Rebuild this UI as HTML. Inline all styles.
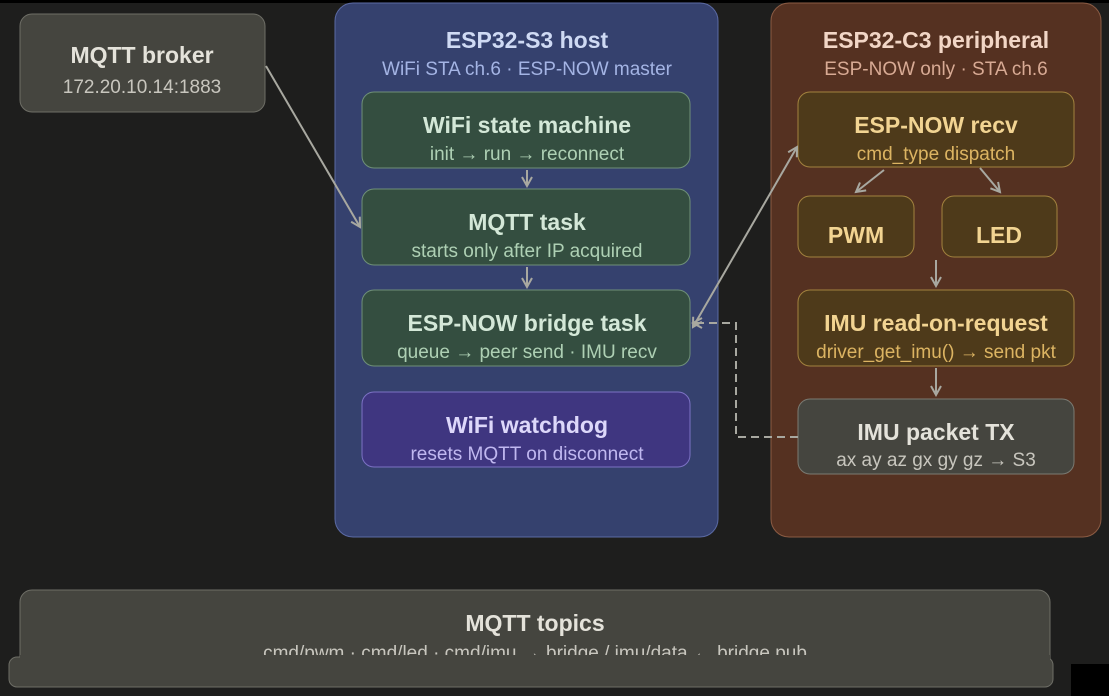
<!DOCTYPE html>
<html><head><meta charset="utf-8"><style>
html,body{margin:0;padding:0;background:#1e1e1d;}
svg{display:block;font-family:"Liberation Sans",sans-serif;}
.t{font-size:23px;font-weight:bold;text-anchor:middle;}
.s{font-size:19px;text-anchor:middle;}
</style></head><body>
<svg width="1109" height="696" viewBox="0 0 1109 696" xmlns="http://www.w3.org/2000/svg">
<defs>
<marker id="a" markerWidth="12" markerHeight="12" refX="10" refY="6" orient="auto" markerUnits="userSpaceOnUse">
<path d="M1,1 L10,6 L1,11" fill="none" stroke="#a8a8a0" stroke-width="2"/></marker>
<marker id="b" markerWidth="12" markerHeight="12" refX="10" refY="6" orient="auto-start-reverse" markerUnits="userSpaceOnUse">
<path d="M1,1 L10,6 L1,11" fill="none" stroke="#a8a8a0" stroke-width="2"/></marker>
</defs>
<rect width="1109" height="696" fill="#1e1e1d"/>
<rect width="1109" height="3" fill="#000"/>

<rect x="20" y="14" width="245" height="98" rx="12" fill="#45453f" stroke="#6e6e66"/>
<text x="142" y="63" class="t" fill="#e4e2da">MQTT broker</text>
<text x="142" y="93" class="s" fill="#c8c6be">172.20.10.14:1883</text>

<rect x="335" y="3" width="383" height="534" rx="18" fill="#35416e" stroke="#5b6aa4"/>
<text x="527" y="48" class="t" fill="#cfdaf4">ESP32-S3 host</text>
<text x="527" y="75" class="s" fill="#a4b4e4">WiFi STA ch.6 · ESP-NOW master</text>

<g stroke="#6f9078" fill="#344e40">
<rect x="362" y="92" width="328" height="76" rx="12"/>
<rect x="362" y="189" width="328" height="76" rx="12"/>
<rect x="362" y="290" width="328" height="76" rx="12"/>
</g>
<text x="527" y="133" class="t" fill="#d4e8d8">WiFi state machine</text>
<text x="527" y="160" class="s" fill="#aed0b4">init → run → reconnect</text>
<text x="527" y="230" class="t" fill="#d4e8d8">MQTT task</text>
<text x="527" y="257" class="s" fill="#aed0b4">starts only after IP acquired</text>
<text x="527" y="331" class="t" fill="#d4e8d8">ESP-NOW bridge task</text>
<text x="527" y="358" class="s" fill="#aed0b4">queue → peer send · IMU recv</text>
<rect x="362" y="392" width="328" height="75" rx="12" fill="#3f3680" stroke="#7c72c4"/>
<text x="527" y="433" class="t" fill="#ddd8fa">WiFi watchdog</text>
<text x="527" y="460" class="s" fill="#c0b8f0">resets MQTT on disconnect</text>

<rect x="771" y="3" width="330" height="534" rx="18" fill="#553121" stroke="#8c5c44"/>
<text x="936" y="48" class="t" fill="#f2d6c6">ESP32-C3 peripheral</text>
<text x="936" y="75" class="s" fill="#d8aa94">ESP-NOW only · STA ch.6</text>

<g stroke="#a2823e" fill="#4e3a1a">
<rect x="798" y="92" width="276" height="75" rx="12"/>
<rect x="798" y="196" width="116" height="61" rx="12"/>
<rect x="942" y="196" width="115" height="61" rx="12"/>
<rect x="798" y="290" width="276" height="76" rx="12"/>
</g>
<text x="936" y="133" class="t" fill="#f2d492">ESP-NOW recv</text>
<text x="936" y="160" class="s" fill="#dcb462">cmd_type dispatch</text>
<text x="856" y="243" class="t" fill="#f2d492">PWM</text>
<text x="999" y="243" class="t" fill="#f2d492">LED</text>
<text x="936" y="331" class="t" fill="#f2d492">IMU read-on-request</text>
<text x="936" y="358" class="s" fill="#dcb462">driver_get_imu() → send pkt</text>
<rect x="798" y="399" width="276" height="75" rx="12" fill="#45453f" stroke="#7a7a72"/>
<text x="936" y="440" class="t" fill="#e4e2da">IMU packet TX</text>
<text x="936" y="466" class="s" fill="#c8c6be">ax ay az gx gy gz → S3</text>

<g stroke="#a8a8a0" stroke-width="2" fill="none">
<line x1="266" y1="66" x2="360" y2="227" marker-end="url(#a)"/>
<line x1="527" y1="170" x2="527" y2="186" marker-end="url(#a)"/>
<line x1="527" y1="267" x2="527" y2="287" marker-end="url(#a)"/>
<line x1="693" y1="327" x2="797" y2="147" marker-start="url(#b)" marker-end="url(#a)"/>
<line x1="884" y1="170" x2="856" y2="192" marker-end="url(#a)"/>
<line x1="980" y1="168" x2="1000" y2="192" marker-end="url(#a)"/>
<line x1="936" y1="260" x2="936" y2="286" marker-end="url(#a)"/>
<line x1="936" y1="368" x2="936" y2="395" marker-end="url(#a)"/>
<path d="M798,437 H736 V323 H693" stroke-dasharray="8,5" marker-end="url(#a)"/>
</g>

<rect x="20" y="590" width="1030" height="95" rx="12" fill="#45453f" stroke="#6e6e66"/>
<text x="535" y="631" class="t" fill="#e4e2da">MQTT topics</text>
<text x="535" y="659" class="s" fill="#c8c6be">cmd/pwm · cmd/led · cmd/imu → bridge / imu/data ← bridge pub</text>
<rect x="9" y="657" width="1044" height="30" rx="8" fill="#45453f" stroke="#6e6e66"/>
<rect x="20" y="655" width="1030" height="20" fill="#45453f"/>
<rect x="1071" y="664" width="38" height="32" fill="#000"/>
</svg>
</body></html>
